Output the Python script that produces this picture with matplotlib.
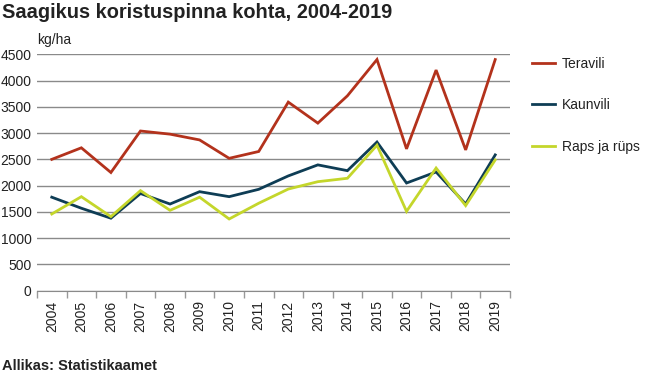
import matplotlib
matplotlib.use("Agg")
import matplotlib.pyplot as plt
import numpy as np

years = [str(y) for y in range(2004, 2020)]
teravili = [2500, 2720, 2250, 3040, 2980, 2870, 2520, 2650, 3590, 3190, 3710, 4400, 2700, 4200, 2680, 4400]
kaunvili = [1780, 1570, 1380, 1850, 1650, 1885, 1790, 1930, 2185, 2395, 2285, 2830, 2050, 2260, 1650, 2585]
raps = [1460, 1790, 1410, 1905, 1530, 1780, 1365, 1665, 1935, 2075, 2140, 2770, 1510, 2335, 1620, 2490]
series_names = ["Teravili", "Kaunvili", "Raps ja rüps"]
colors = ["#b3321c", "#0e3d55", "#c4d62b"]
yticks = list(range(0, 5000, 500))

plt.rcParams['font.family'] = ['Liberation Sans', 'DejaVu Sans']
fig = plt.figure(figsize=(6.45, 3.8), dpi=100)
ax = fig.add_axes([37/645, 1-290.7/380, (510-37)/645, (290.7-54.3)/380])

x = np.arange(len(years))
handles = []
for vals, name, c in zip([teravili, kaunvili, raps], series_names, colors):
    h, = ax.plot(x, vals, color=c, lw=2.0, label=name, solid_joinstyle='miter')
    handles.append(h)

ax.set_xlim(-0.5, len(years) - 0.5)
ax.set_ylim(0, 4500)
ax.set_yticks(yticks)
ax.set_yticklabels([str(v) for v in yticks], fontsize=10, color="#222222")
ax.yaxis.grid(True, color="#8a8a8a", lw=1.0)
ax.set_axisbelow(True)
ax.tick_params(axis='y', length=0, pad=4)
ax.set_xticks(x)
ax.set_xticklabels(years, rotation=90, fontsize=10, color="#222222")
ax.tick_params(axis='x', which='major', length=0, pad=7)
ax.set_xticks(np.arange(-0.5, len(years), 1), minor=True)
ax.tick_params(axis='x', which='minor', length=5, color="#999999", width=1)
for s in ['top', 'right', 'left']:
    ax.spines[s].set_visible(False)
ax.spines['bottom'].set_color("#8a8a8a")

fig.text(2/645, 1-12/380, "Saagikus koristuspinna kohta, 2004-2019", fontsize=14.4,
         fontweight='bold', va='center', ha='left', color="#222222")
fig.text(37/645, 1-40/380, "kg/ha", fontsize=10, va='center', ha='left', color="#222222")
fig.text(2/645, 1-366/380, "Allikas: Statistikaamet", fontsize=10.5, fontweight='bold',
         va='center', ha='left', color="#222222")

fig.legend(handles=handles, loc='upper left', bbox_to_anchor=(532/645, 1-57/380),
           frameon=False, fontsize=10, handlelength=1.65, handletextpad=0.5,
           labelspacing=1.97, borderpad=0, borderaxespad=0, labelcolor="#222222")

fig.savefig("out.png", dpi=100)
